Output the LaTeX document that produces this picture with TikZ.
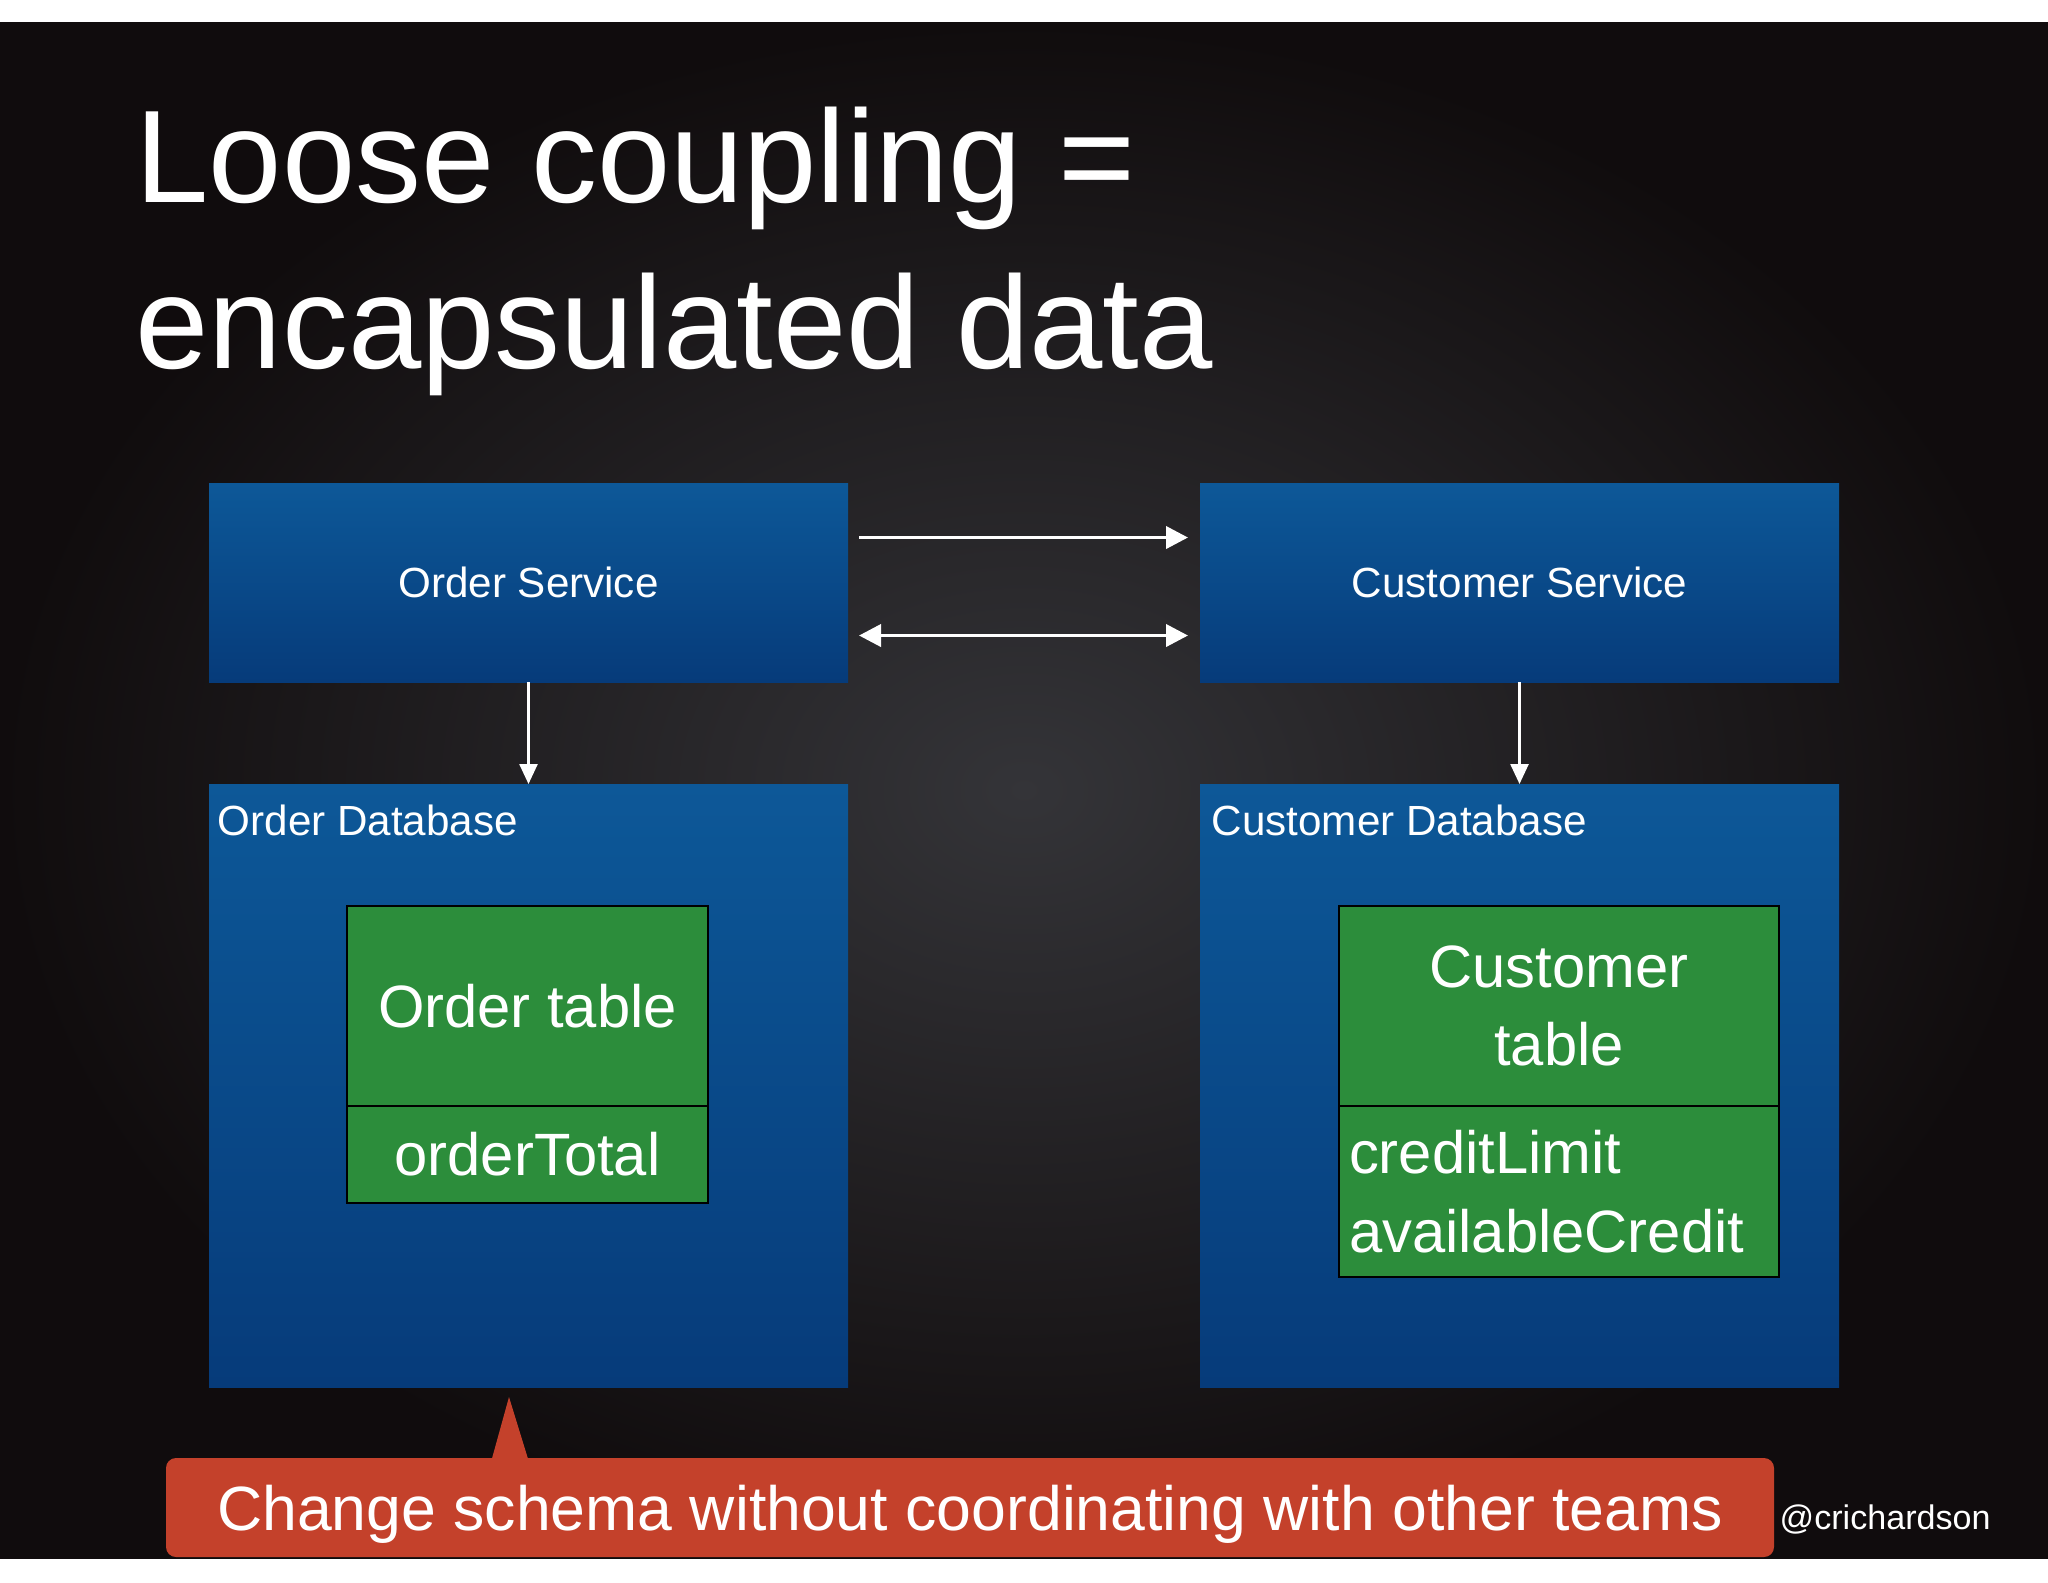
\documentclass[tikz,border=0pt]{standalone}
\usepackage{fontspec}
\setmainfont{Liberation Sans}
\usetikzlibrary{positioning,calc,arrows.meta}
\definecolor{slideblue}{HTML}{0D5898}
\definecolor{slidebluedark}{HTML}{063B7A}
\definecolor{tablegreen}{HTML}{2C8D3B}
\definecolor{calloutred}{HTML}{C4412B}
\definecolor{bgdark}{HTML}{100C0D}
\definecolor{bglight}{HTML}{343438}

\begin{document}
\begin{tikzpicture}[x=0.1mm, y=-0.1mm]
  \tikzset{
    svc/.style={top color=slideblue, bottom color=slidebluedark, minimum width=63.9mm,
      minimum height=19.9mm, inner sep=0pt, outer sep=0pt, text=white,
      font=\fontsize{12}{14}\selectfont},
    dbbox/.style={svc, minimum height=60.3mm},
    dblabel/.style={text=white, inner sep=0pt, anchor=west, font=\fontsize{12}{14}\selectfont},
    tbl/.style={fill=tablegreen, draw=black, line width=0.6pt, inner sep=0pt, outer sep=0pt,
      text=white, align=center, font=\fontsize{17}{22.3}\selectfont},
    flow/.style={white, line width=1.1pt, -{Triangle[length=2.2mm, width=2.2mm]}},
    down/.style={white, line width=0.7pt, -{Triangle[length=2mm, width=1.8mm]}},
    title/.style={text=white, inner sep=0pt, anchor=base west, font=\fontsize{37.5}{47}\selectfont}
  }
  \useasboundingbox (0,0) rectangle (2048,1582);

  % Hintergrund
  \fill[white] (0,0) rectangle (2048,1582);
  \shade[inner color=bglight, outer color=bgdark] (0,22) rectangle (2048,1558);

  % Titel
  \node[title] (title1) at (135,202) {Loose coupling =};
  \node[title] (title2) at (135,368) {encapsulated data};

  % Services
  \node[svc] (osvc) at (528.5,582.5) {Order Service};
  \node[svc] (csvc) at (1519.5,582.5) {Customer Service};

  \draw[flow, shorten <=1.1mm, shorten >=1.2mm]
    ([yshift=4.5mm]osvc.east) -- ([yshift=4.5mm]csvc.west);
  \draw[flow, {Triangle[length=2.2mm, width=2.2mm]}-{Triangle[length=2.2mm, width=2.2mm]},
    shorten <=1.1mm, shorten >=1.2mm]
    ([yshift=-5.3mm]osvc.east) -- ([yshift=-5.3mm]csvc.west);

  % Datenbanken
  \node[dbbox] (odb) at (528.5,1085.5) {};
  \node[dbbox] (cdb) at (1519.5,1085.5) {};
  \node[dblabel] (odblabel) at (217,820) {Order Database};
  \node[dblabel] (cdblabel) at (1211,820) {Customer Database};

  \draw[down] (osvc.south) -- (odb.north);
  \draw[down] (csvc.south) -- (cdb.north);

  % Tabellen
  \node[tbl, minimum width=36.1mm, minimum height=20mm] (otab) at (527.5,1006) {Order table};
  \node[tbl, minimum width=36.1mm, minimum height=9.7mm, below=0pt of otab] (ocols) {orderTotal};

  \node[tbl, minimum width=44mm, minimum height=20mm, text width=42mm] (ctab) at (1559,1006)
    {Customer\\table};
  \node[tbl, minimum width=44mm, minimum height=17.1mm, text width=42mm, inner xsep=1mm,
    align=left, below=0pt of ctab] (ccols) {creditLimit\\availableCredit};

  % Sprechblase
  \coordinate (tip) at (509,1397);
  \fill[calloutred] (491,1462) -- (tip) -- (529,1462) -- cycle;
  \node[fill=calloutred, rounded corners=1mm, minimum width=160.8mm, minimum height=9.9mm,
    inner sep=0pt, text depth=0pt, text=white, font=\fontsize{17.8}{20}\selectfont]
    (callout) at (970,1507.5) {Change schema without coordinating with other teams};

  \node[text=white, inner sep=0pt, anchor=west, font=\fontsize{9.7}{11}\selectfont]
    (handle) at (1779,1519) {@crichardson};
\end{tikzpicture}
\end{document}
